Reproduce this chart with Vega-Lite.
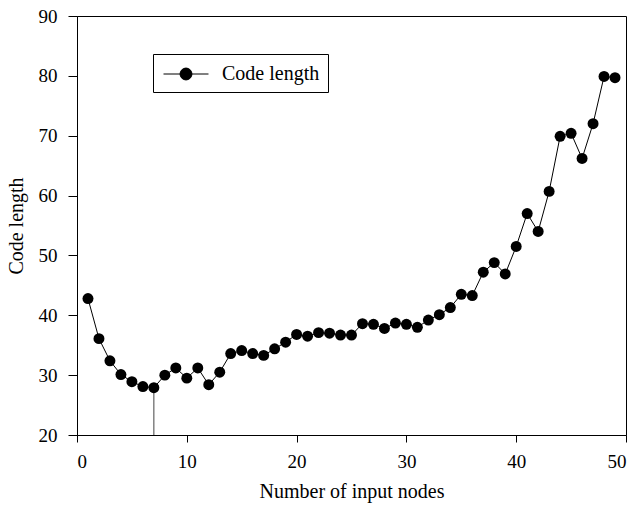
{
  "$schema": "https://vega.github.io/schema/vega-lite/v6.json",
  "width": 549,
  "height": 419,
  "autosize": {"type": "none"},
  "padding": {"left": 77, "top": 16, "right": 10, "bottom": 71},
  "background": "white",
  "config": {
    "view": {"stroke": "black", "strokeWidth": 1},
    "font": "Liberation Serif",
    "axis": {
      "grid": false,
      "domainColor": "black",
      "tickColor": "black",
      "labelColor": "black",
      "titleColor": "black",
      "labelFont": "Liberation Serif",
      "titleFont": "Liberation Serif",
      "labelFontSize": 19,
      "titleFontSize": 20,
      "titleFontWeight": "normal"
    }
  },
  "data": {
    "values": [
      {"n": 1, "len": 42.8}, {"n": 2, "len": 36.1}, {"n": 3, "len": 32.4}, {"n": 4, "len": 30.1},
      {"n": 5, "len": 28.9}, {"n": 6, "len": 28.1}, {"n": 7, "len": 27.9}, {"n": 8, "len": 30.0},
      {"n": 9, "len": 31.2}, {"n": 10, "len": 29.5}, {"n": 11, "len": 31.2}, {"n": 12, "len": 28.4},
      {"n": 13, "len": 30.5}, {"n": 14, "len": 33.6}, {"n": 15, "len": 34.1}, {"n": 16, "len": 33.6},
      {"n": 17, "len": 33.3}, {"n": 18, "len": 34.4}, {"n": 19, "len": 35.5}, {"n": 20, "len": 36.8},
      {"n": 21, "len": 36.5}, {"n": 22, "len": 37.1}, {"n": 23, "len": 37.0}, {"n": 24, "len": 36.7},
      {"n": 25, "len": 36.7}, {"n": 26, "len": 38.6}, {"n": 27, "len": 38.5}, {"n": 28, "len": 37.8},
      {"n": 29, "len": 38.7}, {"n": 30, "len": 38.5}, {"n": 31, "len": 38.0}, {"n": 32, "len": 39.2},
      {"n": 33, "len": 40.1}, {"n": 34, "len": 41.3}, {"n": 35, "len": 43.5}, {"n": 36, "len": 43.3},
      {"n": 37, "len": 47.2}, {"n": 38, "len": 48.8}, {"n": 39, "len": 46.9}, {"n": 40, "len": 51.5},
      {"n": 41, "len": 57.0}, {"n": 42, "len": 54.0}, {"n": 43, "len": 60.7}, {"n": 44, "len": 69.9},
      {"n": 45, "len": 70.4}, {"n": 46, "len": 66.2}, {"n": 47, "len": 72.0}, {"n": 48, "len": 79.9},
      {"n": 49, "len": 79.7}
    ]
  },
  "layer": [
    {
      "data": {"values": [{"n": 7, "low": 20, "high": 27.9}]},
      "mark": {"type": "rule", "color": "#444444", "strokeWidth": 1},
      "encoding": {
        "x": {"field": "n", "type": "quantitative", "scale": {"domain": [0, 50]}},
        "y": {"field": "low", "type": "quantitative", "scale": {"domain": [20, 90]}},
        "y2": {"field": "high"}
      }
    },
    {
      "mark": {"type": "line", "color": "black", "strokeWidth": 1},
      "encoding": {
        "x": {"field": "n", "type": "quantitative"},
        "y": {"field": "len", "type": "quantitative"}
      }
    },
    {
      "transform": [{"calculate": "'Code length'", "as": "series"}],
      "mark": {"type": "point", "filled": true, "opacity": 1, "size": 120, "shape": "circle"},
      "encoding": {
        "x": {
          "field": "n", "type": "quantitative",
          "scale": {"domain": [0, 50], "nice": false},
          "axis": {"values": [0, 10, 20, 30, 40, 50], "title": "Number of input nodes", "titlePadding": 10, "labelPadding": 10, "tickSize": 7}
        },
        "y": {
          "field": "len", "type": "quantitative",
          "scale": {"domain": [20, 90], "nice": false, "zero": false},
          "axis": {"values": [20, 30, 40, 50, 60, 70, 80, 90], "title": "Code length", "titlePadding": 12, "labelPadding": 11, "tickSize": 9}
        },
        "color": {
          "field": "series", "type": "nominal",
          "scale": {"domain": ["Code length"], "range": ["black"]},
          "legend": {
            "title": null,
            "orient": "none",
            "legendX": 76,
            "legendY": 38,
            "strokeColor": "black",
            "padding": 8,
            "symbolType": "M-2,0L2,0M0.53,0A0.53,0.53 0 1,1 -0.53,0A0.53,0.53 0 1,1 0.53,0Z",
            "symbolSize": 506,
            "symbolOffset": 13,
            "symbolStrokeWidth": 1,
            "symbolFillColor": "black",
            "symbolStrokeColor": "black",
            "labelFont": "Liberation Serif",
            "labelFontSize": 20,
            "labelColor": "black",
            "labelOffset": 24
          }
        }
      }
    }
  ]
}
